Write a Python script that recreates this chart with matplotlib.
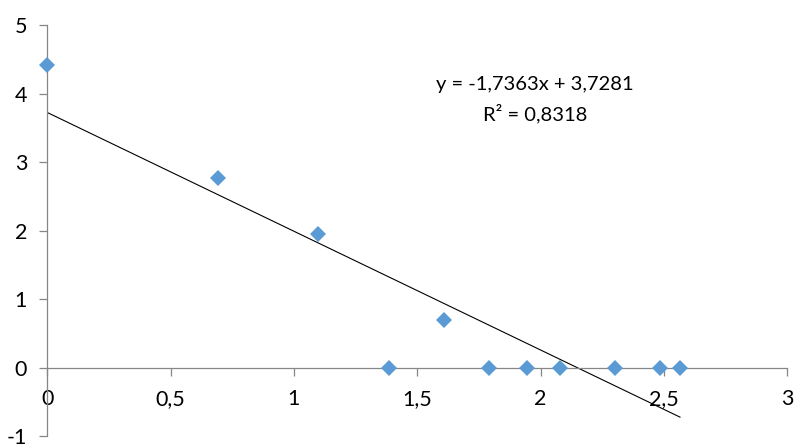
import matplotlib
matplotlib.use("Agg")
import matplotlib.pyplot as plt
import numpy as np

x_vals = [0.0, 0.693, 1.099, 1.386, 1.609, 1.792, 1.946, 2.079, 2.303, 2.485, 2.565]
y_vals = [4.41, 2.77, 1.95, 0.0, 0.69, 0.0, 0.0, 0.0, 0.0, 0.0, 0.0]
x_ticks = [0, 0.5, 1, 1.5, 2, 2.5, 3]
x_tick_labels = ["0", "0,5", "1", "1,5", "2", "2,5", "3"]
y_ticks = [-1, 0, 1, 2, 3, 4, 5]
y_tick_labels = ["-1", "0", "1", "2", "3", "4", "5"]
eq_text = "y = -1,7363x + 3,7281"
r2_text = "R² = 0,8318"

plt.rcParams['font.family'] = ['Lato', 'DejaVu Sans']

fig = plt.figure(figsize=(8, 4.46), dpi=100)
ax = fig.add_axes([0.0591, 0.0224, 0.925, 0.9215])

xs = np.array(x_vals)
ys = np.array(y_vals)
slope, intercept = np.polyfit(xs, ys, 1)
lx = np.array([xs.min(), xs.max()])
ax.plot(lx, slope * lx + intercept, color='black', lw=0.8, zorder=2)
ax.plot(xs, ys, linestyle='none', marker='D', markersize=8.5,
        color='#5B9BD5', markeredgewidth=0, zorder=3, clip_on=False)

ax.set_xlim(0, 3)
ax.set_ylim(-1, 5)
ax.spines['top'].set_visible(False)
ax.spines['right'].set_visible(False)
ax.spines['bottom'].set_position(('data', 0))
for s in ('left', 'bottom'):
    ax.spines[s].set_color('#868686')
    ax.spines[s].set_linewidth(0.9)

ax.set_xticks(x_ticks)
ax.set_xticklabels(x_tick_labels)
ax.set_yticks(y_ticks)
ax.set_yticklabels(y_tick_labels)
ax.tick_params(axis='both', colors='#868686', labelcolor='black',
               labelsize=15.5, length=5.5, width=0.9, direction='out')
ax.tick_params(axis='x', pad=10)
ax.tick_params(axis='y', pad=9)

ax.text(1.977, 4.13, eq_text, ha='center', va='center', fontsize=14.5)
ax.text(1.977, 3.71, r2_text, ha='center', va='center', fontsize=14.5)

fig.savefig("out.png", dpi=100)
